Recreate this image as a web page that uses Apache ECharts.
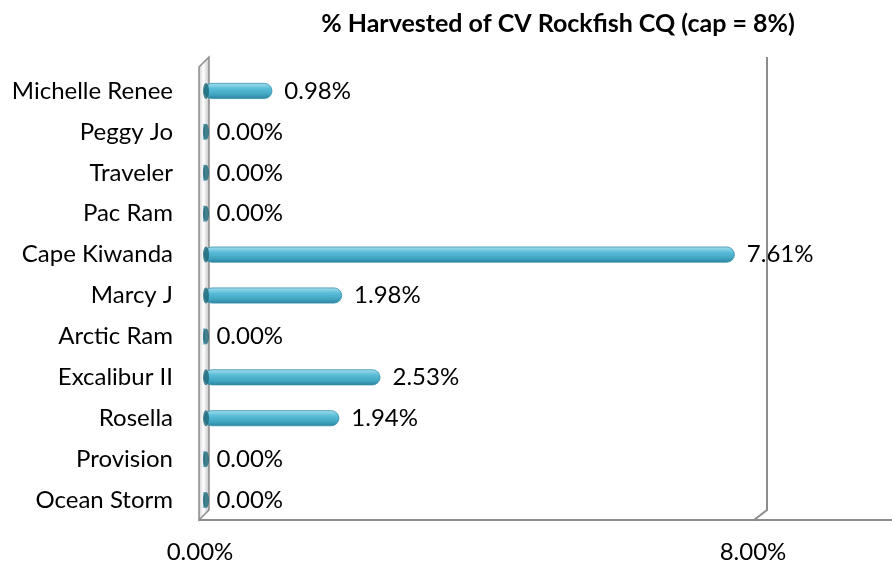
<!DOCTYPE html>
<html><head><meta charset="utf-8">
<script src="https://cdn.jsdelivr.net/npm/echarts@6/dist/echarts.min.js"></script>
<style>html,body{margin:0;padding:0;background:#fff}#c{width:892px;height:566px}</style>
</head><body><div id="c"></div>
<script>
const titleText = '% Harvested of CV Rockfish CQ (cap = 8%)';
const categories = ['Michelle Renee','Peggy Jo','Traveler','Pac Ram','Cape Kiwanda','Marcy J','Arctic Ram','Excalibur II','Rosella','Provision','Ocean Storm'];
const values = [0.98, 0, 0, 0, 7.61, 1.98, 0, 2.53, 1.94, 0, 0];
const xMin = 0, xMax = 8, xInterval = 8;

const font = 'Lato, "Open Sans", sans-serif';
const cats = categories.slice().reverse();
const vals = values.slice().reverse();

const chart = echarts.init(document.getElementById('c'), null, {renderer:'canvas'});
const barGrad = new echarts.graphic.LinearGradient(0,0,0,1,[
  {offset:0,color:'#a6dff0'},{offset:0.35,color:'#5bbdd8'},{offset:0.75,color:'#3fa3c0'},{offset:1,color:'#2b7f99'}]);
const wallGrad = new echarts.graphic.LinearGradient(0,0,1,0,[
  {offset:0,color:'#c8c8c8'},{offset:0.45,color:'#ffffff'},{offset:1,color:'#bdbdbd'}]);

chart.setOption({
  animation:false,
  title:{text:titleText,left:553,top:6,textAlign:'center',
    textStyle:{fontFamily:font,fontSize:25,fontWeight:'bold',color:'#000'}},
  grid:[{left:204,right:130,top:70.5,bottom:45.5},{left:200,right:139,top:70.5,bottom:45.5}],
  xAxis:[{type:'value',gridIndex:0,min:xMin,max:xMax,interval:xInterval,show:false},
    {type:'value',gridIndex:1,min:xMin,max:xMax,interval:xInterval,
    axisLine:{show:false},axisTick:{show:false},splitLine:{show:false},
    axisLabel:{margin:20,fontFamily:font,fontSize:24,color:'#000',
      formatter:v=>v.toFixed(2)+'%'}}],
  yAxis:[{type:'category',gridIndex:0,data:cats,
    axisLine:{show:false},axisTick:{show:false},
    axisLabel:{margin:31,fontFamily:font,fontSize:24,color:'#000'}},
    {type:'category',gridIndex:1,data:cats,show:false}],
  graphic:[
    {type:'line',z:1,shape:{x1:199,y1:520,x2:892,y2:520},style:{stroke:'#8c8c8c',lineWidth:2}},
    {type:'polyline',z:1,shape:{points:[[767,57],[767,510],[754,520]]},style:{stroke:'#8c8c8c',lineWidth:2,fill:null}},
    {type:'polygon',z:2,shape:{points:[[199,67],[209,57],[209,510],[199,520]]},
      style:{fill:wallGrad,stroke:'#8c8c8c',lineWidth:1.5}}
  ],
  series:[
    {type:'bar',data:vals,barWidth:16,z:5,
      itemStyle:{color:barGrad,borderRadius:8,borderColor:'#3a93ad',borderWidth:0.8},
      label:{show:true,position:'right',distance:12,fontFamily:font,fontSize:24,color:'#000',
        formatter:p=>p.value.toFixed(2)+'%'}},
    {type:'scatter',data:cats.map(c=>[0,c]),symbol:'circle',symbolSize:[6,16],z:6,
      symbolOffset:[2,0],itemStyle:{color:'#1d6678'},silent:true}
  ]
});
</script></body></html>
